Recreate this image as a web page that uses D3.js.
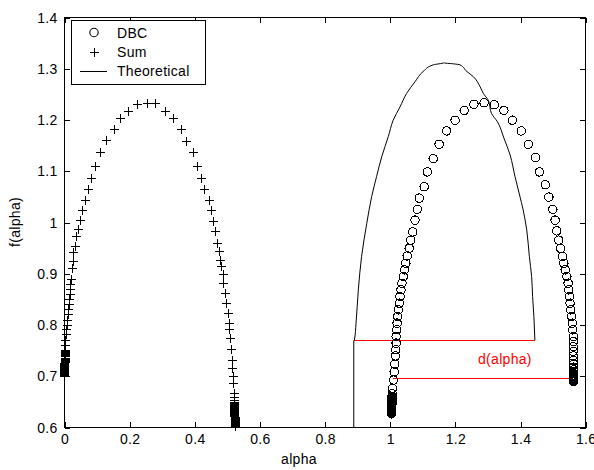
<!DOCTYPE html>
<html>
<head>
<meta charset="utf-8">
<script src="https://cdn.jsdelivr.net/npm/d3@7"></script>
<style>
  html, body { margin: 0; padding: 0; background: #fff; }
  svg { display: block; }
  text { font-family: "Liberation Sans", Arial, sans-serif; letter-spacing: 0.3px; }
</style>
</head>
<body>
<svg id="chart" width="594" height="470"></svg>
<script>
// ---------------- data ----------------
const xTicks = [0, 0.2, 0.4, 0.6, 0.8, 1, 1.2, 1.4, 1.6];
const yTicks = [0.6, 0.7, 0.8, 0.9, 1, 1.1, 1.2, 1.3, 1.4];
const legendLabels = ["DBC", "Sum", "Theoretical"];
const xLabel = "alpha";
const yLabel = "f(alpha)";
const dLabel = "d(alpha)";

// "Sum" series (+ markers)
const sumAlpha = [0.000,0.000,0.000,0.000,0.000,0.000,0.001,0.001,0.001,0.001,0.001,0.001,0.001,
  0.001,0.002,0.002,0.002,0.002,0.002,0.002,0.002,0.002,0.003,0.003,0.003,0.003,
  0.003,0.004,0.006,0.007,0.008,0.010,0.011,0.013,0.014,0.015,0.017,0.018,0.019,0.021,
  0.024,0.027,0.029,0.033,0.037,0.042,0.048,0.056,0.063,0.074,0.084,0.096,0.111,0.130,0.152,0.173,0.198,0.225,
  0.254,0.280,0.309,0.334,0.360,0.375,0.395,0.409,0.421,0.431,0.444,0.450,0.457,0.463,0.469,0.475,0.480,0.483,0.487,
  0.489,0.493,0.498,0.503,0.506,0.508,0.510,0.513,0.516,0.516,0.518,0.520,0.521,
  0.522,0.522,0.522,0.522,0.522,0.523,0.523,0.523,0.523,0.523,0.523,0.523,0.523,
  0.523,0.523,0.523,0.523,0.524,0.524,0.524,0.524,0.524,0.524,0.524,0.524,0.524,0.524,0.524];
const sumF = [0.700,0.702,0.704,0.706,0.708,0.710,0.712,0.714,0.716,0.718,0.720,0.722,0.724,
  0.726,0.728,0.730,0.732,0.734,0.736,0.738,0.740,0.742,0.744,0.746,0.748,0.750,
  0.761,0.771,0.781,0.791,0.800,0.810,0.820,0.831,0.840,0.850,0.859,0.869,0.879,0.889,
  0.911,0.924,0.941,0.953,0.973,0.987,1.004,1.023,1.043,1.064,1.087,1.110,1.137,1.160,1.182,1.204,1.217,1.230,
  1.233,1.232,1.217,1.204,1.182,1.159,1.137,1.109,1.087,1.064,1.043,1.023,1.002,0.982,0.960,0.943,0.927,0.914,0.898,
  0.882,0.862,0.843,0.823,0.804,0.791,0.774,0.752,0.732,0.716,0.700,0.687,0.667,
  0.658,0.654,0.650,0.648,0.646,0.644,0.642,0.640,0.638,0.636,0.634,0.632,0.630,
  0.628,0.626,0.624,0.622,0.620,0.618,0.616,0.614,0.612,0.610,0.608,0.606,0.604,0.602];

// "DBC" series (circle markers)
const dbcAlpha = [1.004,1.004,1.004,1.004,1.004,1.004,1.004,1.004,1.004,1.005,1.005,1.005,1.005,1.005,1.005,1.005,1.005,1.005,1.006,
  1.007,1.010,1.012,1.014,1.016,1.017,1.018,1.018,1.020,1.021,1.023,1.025,1.028,1.030,1.033,1.036,1.040,1.044,1.048,
  1.052,1.058,1.063,1.069,1.076,1.083,1.089,1.104,1.114,1.132,1.150,1.173,1.199,1.227,1.257,1.288,
  1.319,1.349,1.375,1.402,1.424,1.446,1.458,1.476,1.487,1.499,1.506,1.511,1.517,1.523,1.529,1.533,1.537,1.542,
  1.546,1.548,1.550,1.552,1.554,1.557,1.559,1.560,1.562,
  1.562,1.562,1.562,1.562,1.563,1.563,1.563,1.563,1.563,1.563,1.563,1.563,1.563,1.563,1.563,1.563,1.563,1.563];
const dbcF = [0.627,0.629,0.631,0.633,0.635,0.637,0.639,0.641,0.643,0.645,0.647,0.649,0.651,0.653,0.655,0.657,0.659,0.661,0.666,
  0.677,0.693,0.709,0.724,0.740,0.752,0.765,0.778,0.791,0.804,0.817,0.830,0.843,0.856,0.869,0.882,0.895,0.908,0.921,
  0.935,0.950,0.966,0.982,1.005,1.026,1.048,1.070,1.099,1.125,1.153,1.179,1.200,1.219,1.231,1.234,
  1.230,1.219,1.200,1.179,1.153,1.127,1.099,1.074,1.050,1.026,1.005,0.984,0.966,0.950,0.934,0.921,0.908,0.895,
  0.882,0.869,0.856,0.843,0.830,0.817,0.804,0.791,0.778,
  0.768,0.758,0.749,0.740,0.731,0.724,0.718,0.713,0.709,0.706,0.703,0.701,0.699,0.697,0.695,0.693,0.691,0.690];

// "Theoretical" curve
const theoAlpha = [0.888,0.888,0.890,0.895,0.902,0.912,0.928,0.943,0.958,0.974,0.994,1.009,1.030,1.050,1.076,1.101,
  1.132,1.163,1.194,1.214,1.235,1.255,1.276,1.286,1.301,1.311,1.329,1.349,1.368,1.383,1.397,1.408,1.419,1.427,
  1.434,1.437,1.441,1.444];
const theoF = [0.600,0.770,0.771,0.804,0.869,0.934,0.999,1.051,1.090,1.129,1.168,1.200,1.226,1.252,1.275,1.295,
  1.308,1.312,1.310,1.308,1.295,1.285,1.265,1.252,1.239,1.213,1.197,1.165,1.132,1.090,1.054,1.025,0.986,0.934,
  0.895,0.856,0.817,0.771];

// d(alpha) red reference lines
const dLineStart = [0.888, 1.008];
const dLineEnd = [1.444, 1.561];
const dLineF = [0.771, 0.696];
const dLabelPos = [1.352, 0.734];

// ---------------- drawing ----------------
const svg = d3.select("#chart");
const pL = 64.5, pR = 585.7, pT = 17.7, pB = 427.7;
const x = d3.scaleLinear().domain([0, 1.6]).range([pL, pR]);
const y = d3.scaleLinear().domain([0.6, 1.4]).range([pB, pT]);
const fmt = d => String(+(+d).toFixed(1));
const FS = "14px";

// red d(alpha) lines
const dLines = dLineStart.map((s, i) => ({ s, e: dLineEnd[i], f: dLineF[i] }));
svg.append("g").attr("shape-rendering", "crispEdges").selectAll("line").data(dLines).join("line")
  .attr("x1", d => x(d.s)).attr("x2", d => x(d.e))
  .attr("y1", d => y(d.f)).attr("y2", d => y(d.f))
  .attr("stroke", "#ff0000").attr("stroke-width", 1);

// theoretical line
const theo = theoAlpha.map((a, i) => [a, theoF[i]]);
svg.append("path").datum(theo)
  .attr("d", d3.line().curve(d3.curveMonotoneY).x(d => x(d[0])).y(d => y(d[1])))
  .attr("fill", "none").attr("stroke", "#000").attr("stroke-width", 1);

// DBC circles
const dbc = dbcAlpha.map((a, i) => [a, dbcF[i]]);
svg.append("g").attr("shape-rendering", "crispEdges").selectAll("circle").data(dbc).join("circle")
  .attr("cx", d => x(d[0])).attr("cy", d => y(d[1])).attr("r", 4.2)
  .attr("fill", "none").attr("stroke", "#000").attr("stroke-width", 1.1);

// Sum plus markers
const sum = sumAlpha.map((a, i) => [a, sumF[i]]);
svg.append("g").attr("shape-rendering", "crispEdges").selectAll("path").data(sum).join("path")
  .attr("d", d => `M${x(d[0]) - 4.5},${y(d[1])}h9M${x(d[0])},${y(d[1]) - 4.5}v9`)
  .attr("fill", "none").attr("stroke", "#000").attr("stroke-width", 1);

// d(alpha) label
svg.append("text").attr("x", x(dLabelPos[0])).attr("y", y(dLabelPos[1]))
  .attr("text-anchor", "middle").attr("dominant-baseline", "central")
  .attr("fill", "#ff0000").style("font-size", FS).text(dLabel);

// axes
const tk = 5.5;
const axB = svg.append("g").attr("transform", `translate(0,${pB})`)
  .call(d3.axisBottom(x).tickValues(xTicks).tickFormat(fmt).tickSizeInner(-tk).tickSizeOuter(0).tickPadding(6));
const axL = svg.append("g").attr("transform", `translate(${pL},0)`)
  .call(d3.axisLeft(y).tickValues(yTicks).tickFormat(fmt).tickSizeInner(-tk).tickSizeOuter(0).tickPadding(7));
const axT = svg.append("g").attr("transform", `translate(0,${pT})`)
  .call(d3.axisTop(x).tickValues(xTicks).tickFormat("").tickSizeInner(-tk).tickSizeOuter(0));
const axR = svg.append("g").attr("transform", `translate(${pR},0)`)
  .call(d3.axisRight(y).tickValues(yTicks).tickFormat("").tickSizeInner(-tk).tickSizeOuter(0));
[axB, axL, axT, axR].forEach(g => {
  g.select(".domain").remove();
  g.selectAll("line").attr("stroke", "#000").attr("shape-rendering", "crispEdges");
  g.selectAll("text").attr("fill", "#000").style("font-size", FS)
    .style("font-family", "'Liberation Sans', Arial, sans-serif");
});
svg.append("rect").attr("x", pL).attr("y", pT)
  .attr("width", pR - pL).attr("height", pB - pT).attr("shape-rendering", "crispEdges")
  .attr("fill", "none").attr("stroke", "#000").attr("stroke-width", 1);

// axis labels
svg.append("text").attr("x", 299).attr("y", 464)
  .attr("text-anchor", "middle").style("font-size", FS).text(xLabel);
svg.append("text").attr("transform", "translate(20,222) rotate(-90)")
  .attr("text-anchor", "middle").style("font-size", FS).text(yLabel);

// legend
const lg = svg.append("g");
lg.append("rect").attr("x", 71).attr("y", 20.7).attr("width", 134).attr("height", 63.3)
  .attr("shape-rendering", "crispEdges")
  .attr("fill", "#fff").attr("stroke", "#000").attr("stroke-width", 1);
const ly = [32.5, 52, 71];
legendLabels.forEach((lab, i) => {
  lg.append("text").attr("x", 117).attr("y", ly[i]).attr("dominant-baseline", "central")
    .style("font-size", FS).text(lab);
});
lg.append("circle").attr("cx", 94).attr("cy", ly[0]).attr("r", 4.2)
  .attr("fill", "none").attr("stroke", "#000").attr("stroke-width", 1.1);
lg.append("path").attr("d", `M89.5,${ly[1]}h9M94,${ly[1] - 4.5}v9`).attr("shape-rendering", "crispEdges")
  .attr("stroke", "#000").attr("stroke-width", 1);
lg.append("line").attr("x1", 80).attr("x2", 107).attr("y1", ly[2]).attr("y2", ly[2])
  .attr("shape-rendering", "crispEdges").attr("stroke", "#000");
</script>
</body>
</html>
